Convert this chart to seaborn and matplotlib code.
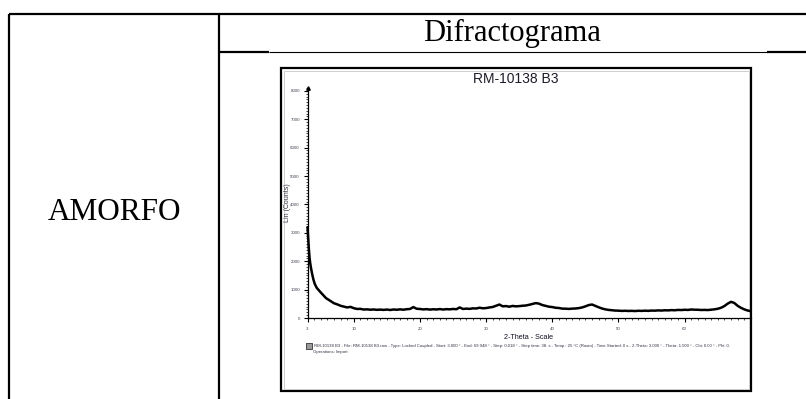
import matplotlib
matplotlib.use("Agg")
import matplotlib.pyplot as plt
from matplotlib.patches import Rectangle
from matplotlib.ticker import MultipleLocator, FixedLocator
import numpy as np
import pandas as pd
import seaborn as sns

# ---- diffractogram data: 2-theta (deg) and intensity (counts) ----
two_theta = [3.0, 3.1, 3.2, 3.3, 3.4, 3.5, 3.7, 3.9, 4.1, 4.4, 4.7, 5.0, 5.4, 5.8,
             6.2, 6.6, 7.0, 7.5, 8.0, 8.5, 9.0, 9.5,
             10.0, 10.5, 11.0, 11.5, 12.0, 12.5, 13.0, 13.5, 14.0, 14.5,
             15.0, 15.5, 16.0, 16.5, 17.0, 17.5, 18.0, 18.5, 19.0, 19.5,
             20.0, 20.5, 21.0, 21.5, 22.0, 22.5, 23.0, 23.5, 24.0, 24.5,
             25.0, 25.5, 26.0, 26.5, 27.0, 27.5, 28.0, 28.5, 29.0, 29.5,
             30.0, 30.5, 31.0, 31.5, 32.0, 32.5, 33.0, 33.5, 34.0, 34.5,
             35.0, 35.5, 36.0, 36.5, 37.0, 37.5, 38.0, 38.5, 39.0, 39.5,
             40.0, 40.5, 41.0, 41.5, 42.0, 42.5, 43.0, 43.5, 44.0, 44.5,
             45.0, 45.5, 46.0, 46.5, 47.0, 47.5, 48.0, 48.5, 49.0, 49.5,
             50.0, 50.5, 51.0, 51.5, 52.0, 52.5, 53.0, 53.5, 54.0, 54.5,
             55.0, 55.5, 56.0, 56.5, 57.0, 57.5, 58.0, 58.5, 59.0, 59.5,
             60.0, 60.5, 61.0, 61.5, 62.0, 62.5, 63.0, 63.5, 64.0, 64.5,
             65.0, 65.5, 66.0, 66.5, 67.0, 67.5, 68.0, 68.5, 69.0, 69.5, 69.95]
counts = [3200, 2800, 2450, 2150, 1950, 1800, 1550, 1350, 1200, 1060, 980, 900, 800, 700,
          640, 580, 520, 480, 430, 400, 372, 392,
          345, 318, 322, 298, 305, 292, 300, 288, 296, 285,
          298, 282, 300, 290, 305, 292, 310, 318, 385, 325,
          318, 302, 312, 296, 308, 300, 315, 298, 312, 305,
          318, 310, 372, 318, 330, 322, 340, 335, 362, 342,
          350, 372, 388, 430, 475, 412, 420, 398, 425, 410,
          418, 432, 440, 465, 495, 525, 505, 455, 428, 398,
          385, 360, 352, 330, 328, 320, 330, 335, 348, 372,
          410, 455, 475, 425, 378, 335, 305, 285, 272, 262,
          258, 250, 255, 248, 252, 245, 255, 250, 258, 252,
          262, 258, 268, 262, 272, 268, 278, 272, 285, 280,
          290, 284, 300, 292, 290, 282, 285, 280, 292, 305,
          325, 360, 420, 505, 570, 530, 430, 360, 305, 265, 242]

y_ticks = [0, 1000, 2000, 3000, 4000, 5000, 6000, 7000, 8000]
x_ticks = [3, 10, 20, 30, 40, 50, 60]

sample_name = "RM-10138 B3"
info_line = ("RM-10138 B3 - File: RM-10138 B3.raw - Type: Locked Coupled - Start: 3.000 \u00b0 - "
             "End: 69.948 \u00b0 - Step: 0.018 \u00b0 - Step time: 38. s - Temp.: 25 \u00b0C (Room) - "
             "Time Started: 0 s - 2-Theta: 3.000 \u00b0 - Theta: 1.500 \u00b0 - Chi: 0.00 \u00b0 - Phi: 0.")
ops_line = "Operations: Import"

df = pd.DataFrame({"2theta": two_theta, "counts": counts})

sns.set_style("white")
plt.rcParams["font.family"] = ["Liberation Sans", "DejaVu Sans"]
plt.rcParams["text.color"] = "black"

W, H = 806, 399
fig = plt.figure(figsize=(W / 100, H / 100), dpi=100)
fig.patch.set_facecolor("white")

# background layer in pixel units for the surrounding table
bg = fig.add_axes([0, 0, 1, 1])
bg.set_xlim(0, W)
bg.set_ylim(H, 0)
bg.axis("off")

thick, thin = 1.6, 0.8
bg.plot([9, W + 5], [14, 14], color="black", lw=thick, solid_capstyle="butt")
bg.plot([9, 9], [14, H + 5], color="black", lw=thick, solid_capstyle="butt")
bg.plot([219, 219], [14, H + 5], color="black", lw=thick, solid_capstyle="butt")
bg.plot([219, 269], [52, 52], color="black", lw=thick, solid_capstyle="butt")
bg.plot([269, 767], [52, 52], color="black", lw=thin, solid_capstyle="butt")
bg.plot([767, W + 5], [52, 52], color="black", lw=thick, solid_capstyle="butt")

serif = ["Liberation Serif", "DejaVu Serif"]
bg.text(114, 220.5, "AMORFO", family=serif, fontsize=22.5, color="black",
        ha="center", va="baseline")
bg.text(512, 40.5, "Difractograma", family=serif, fontsize=22, color="black",
        ha="center", va="baseline")

# frame of the embedded diffractogram
bg.add_patch(Rectangle((281, 68), 470, 323, fill=False, ec="black", lw=1.6))
bg.add_patch(Rectangle((283.5, 70.5), 465, 318, fill=False, ec="#c8c8c8", lw=0.6))
bg.text(516, 83, sample_name, fontsize=10, color="#1e1e2a", ha="center", va="baseline")

# legend swatch and scan information
bg.add_patch(Rectangle((306, 343), 6, 6, fc="#9a9a9a", ec="#333333", lw=0.6))
bg.text(314, 346.3, info_line, fontsize=3.08, color="#333344", ha="left", va="center")
bg.text(313, 352.5, ops_line, fontsize=3.08, color="#333344", ha="left", va="center")

# plot area of the diffractogram
x0, x1 = 307.5, 750.5
ytop, ybot = 88, 318
ax = fig.add_axes([x0 / W, (H - ybot) / H, (x1 - x0) / W, (ybot - ytop) / H])
ax.patch.set_alpha(0)
sns.lineplot(data=df, x="2theta", y="counts", ax=ax, color="black", lw=1.8, clip_on=False)
ax.set_xlim(3, 69.95)
ax.set_ylim(0, 8100)

for side in ("top", "right"):
    ax.spines[side].set_visible(False)
for side in ("left", "bottom"):
    ax.spines[side].set_color("black")
    ax.spines[side].set_linewidth(0.9)

ax.yaxis.set_major_locator(FixedLocator(y_ticks))
ax.yaxis.set_minor_locator(MultipleLocator(100))
ax.xaxis.set_major_locator(FixedLocator(x_ticks))
ax.xaxis.set_minor_locator(MultipleLocator(1))
ax.set_yticklabels([str(v) for v in y_ticks])
ax.set_xticklabels([str(v) for v in x_ticks])
ax.tick_params(axis="both", which="both", bottom=True, left=True, top=False, right=False)
ax.tick_params(axis="both", which="major", direction="out", length=3, width=0.8,
               color="black", labelsize=3.2, labelcolor="#445", pad=2.5)
ax.tick_params(axis="both", which="minor", direction="out", length=1.5, width=0.5,
               color="black")
ax.tick_params(axis="x", which="major", pad=3.5)

ax.set_xlabel("2-Theta - Scale", fontsize=5.2, color="#111122", va="center")
ax.xaxis.set_label_coords(0.5, -0.083)
ax.set_ylabel("Lin (Counts)", fontsize=5, color="#333344", va="center")
ax.yaxis.set_label_coords(-0.046, 0.5)

# arrowhead at the top of the intensity axis
ax.plot([0], [1.0], marker="^", ms=2.5, color="black", transform=ax.transAxes, clip_on=False)

fig.savefig("out.png", dpi=100)
